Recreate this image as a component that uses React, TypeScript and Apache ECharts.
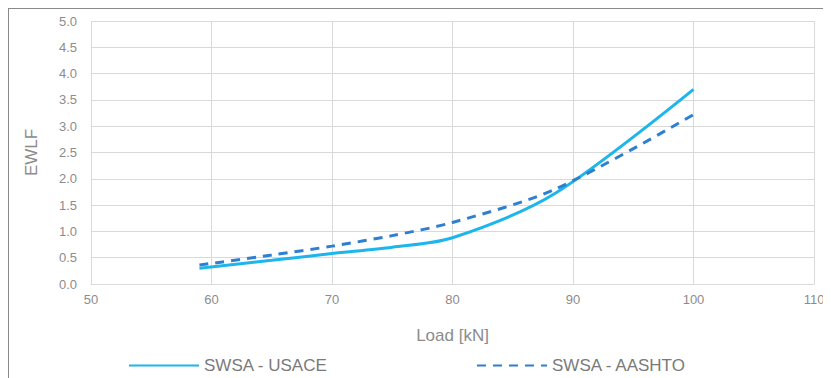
import React, { useEffect, useRef } from "react";
import * as echarts from "echarts";

const usaceLoad = [59, 65, 70, 75, 80, 88.5, 100];
const usaceValue = [0.3, 0.45, 0.58, 0.7, 0.88, 1.72, 3.7];
const aashtoLoad = [59, 65, 70, 75, 80, 88.5, 100];
const aashtoValue = [0.36, 0.55, 0.72, 0.92, 1.17, 1.8, 3.22];
const seriesNames = ["SWSA - USACE", "SWSA - AASHTO"];
const xTitle = "Load [kN]";
const yTitle = "EWLF";

export default function App() {
  const ref = useRef<HTMLDivElement>(null);
  useEffect(() => {
    const chart = echarts.init(ref.current!, null, { renderer: "svg" });
    const txt = { color: "#8c8c8c", fontFamily: "Liberation Sans, Arial, sans-serif" };
    const legendBase = {
      top: 348,
      padding: 0,
      itemWidth: 70,
      itemHeight: 14,
      itemGap: 6,
      itemStyle: { opacity: 0 },
      textStyle: { ...txt, color: "#7a7a7a", fontSize: 17 },
    };
    chart.setOption({
      animation: false,
      grid: { left: 82, top: 12, width: 723, height: 263 },
      legend: [
        { ...legendBase, left: 119, data: [seriesNames[0]] },
        { ...legendBase, left: 467, data: [seriesNames[1]] },
      ],
      xAxis: {
        type: "value",
        min: 50,
        max: 110,
        interval: 10,
        name: xTitle,
        nameLocation: "middle",
        nameGap: 43,
        nameTextStyle: { ...txt, fontSize: 17 },
        axisLine: { show: true, lineStyle: { color: "#d9d9d9" } },
        axisTick: { show: false },
        axisLabel: { ...txt, fontSize: 13, margin: 9 },
        splitLine: { show: true, lineStyle: { color: "#d9d9d9" } },
      },
      yAxis: {
        type: "value",
        min: 0,
        max: 5,
        interval: 0.5,
        name: yTitle,
        nameLocation: "middle",
        nameGap: 51,
        nameTextStyle: { ...txt, fontSize: 17 },
        axisLine: { show: false },
        axisTick: { show: false },
        axisLabel: { ...txt, fontSize: 13, margin: 14, formatter: (v: number) => v.toFixed(1) },
        splitLine: { show: true, lineStyle: { color: "#d9d9d9" } },
      },
      series: [
        {
          name: seriesNames[0],
          type: "line",
          smooth: 0.3,
          showSymbol: false,
          symbol: "none",
          data: usaceLoad.map((x, i) => [x, usaceValue[i]]),
          lineStyle: { color: "#1cb5ec", width: 3 },
          itemStyle: { color: "#1cb5ec" },
        },
        {
          name: seriesNames[1],
          type: "line",
          smooth: 0.3,
          showSymbol: false,
          symbol: "none",
          data: aashtoLoad.map((x, i) => [x, aashtoValue[i]]),
          lineStyle: { color: "#2f7fd0", width: 3, type: [9, 7] },
          itemStyle: { color: "#2f7fd0" },
        },
      ],
    });
    return () => chart.dispose();
  }, []);
  return (
    <div
      style={{
        width: 823,
        height: 380,
        border: "1px solid #8a8a8a",
        boxSizing: "border-box",
        background: "#fff",
      }}
    >
      <div ref={ref} style={{ width: 821, height: 378 }} />
    </div>
  );
}
